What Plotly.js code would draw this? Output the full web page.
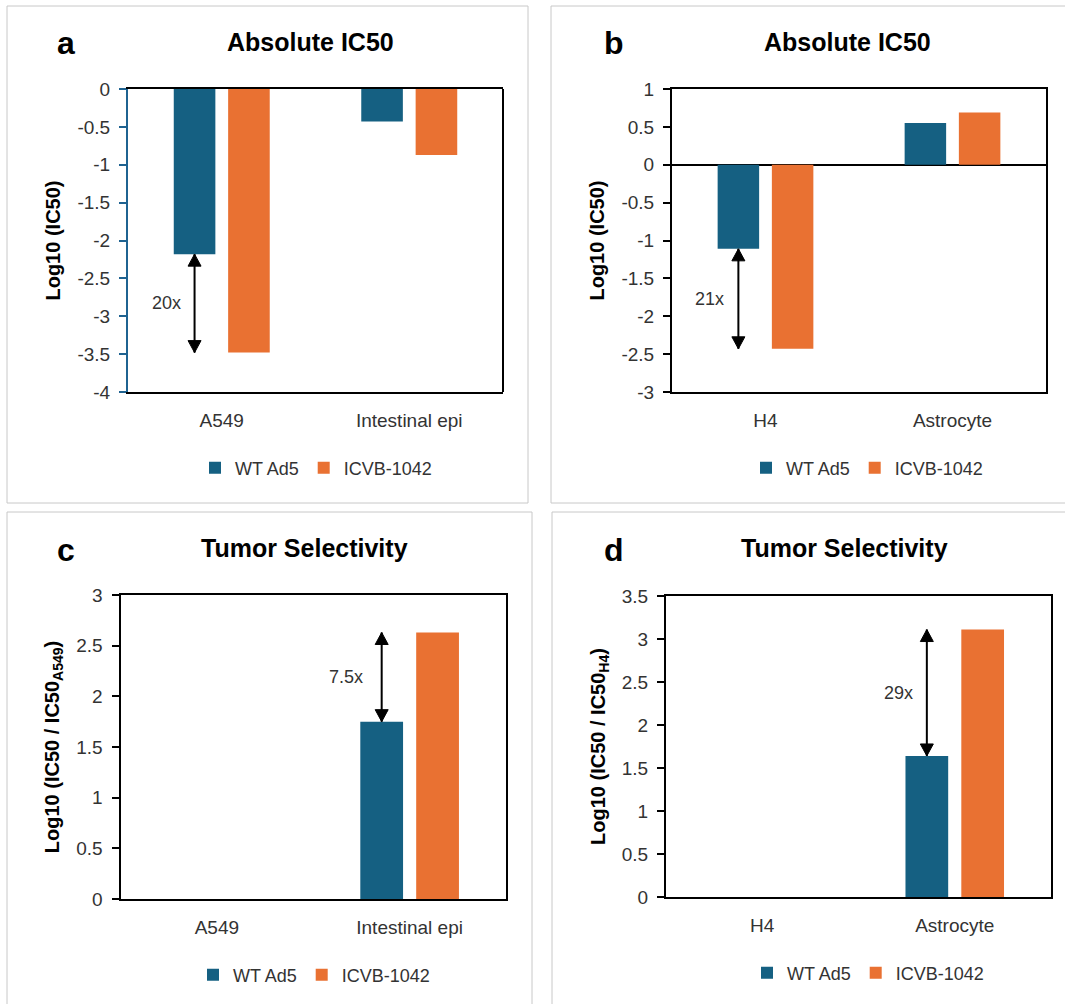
<!DOCTYPE html>
<html>
<head>
<meta charset="utf-8">
<script src="https://cdn.plot.ly/plotly-3.0.1.min.js"></script>
<style>
  html, body { margin: 0; padding: 0; background: #ffffff; }
  #chart { width: 1065px; height: 1004px; }
</style>
</head>
<body>
<div id="chart"></div>
<script>
// ---------------- data ----------------
const seriesNames = ['WT Ad5', 'ICVB-1042'];
const catsLung = ['A549', 'Intestinal epi'];
const catsBrain = ['H4', 'Astrocyte'];

const absLungWT = [-2.18, -0.43];
const absLungICVB = [-3.48, -0.87];
const absBrainWT = [-1.11, 0.55];
const absBrainICVB = [-2.43, 0.69];
const selLungWT = [0, 1.75];
const selLungICVB = [0, 2.63];
const selBrainWT = [0, 1.64];
const selBrainICVB = [0, 3.11];

const foldLabels = ['20x', '21x', '7.5x', '29x'];
const foldCategory = [0, 0, 1, 1];

const panelLetters = ['a', 'b', 'c', 'd'];
const panelTitles = ['Absolute IC50', 'Absolute IC50', 'Tumor Selectivity', 'Tumor Selectivity'];
const yTitles = ['Log10 (IC50)', 'Log10 (IC50)', 'Log10 (IC50 / IC50<sub>A549</sub>)', 'Log10 (IC50 / IC50<sub>H4</sub>)'];
const yTicksA = [0, -0.5, -1, -1.5, -2, -2.5, -3, -3.5, -4];
const yTicksB = [1, 0.5, 0, -0.5, -1, -1.5, -2, -2.5, -3];
const yTicksC = [3, 2.5, 2, 1.5, 1, 0.5, 0];
const yTicksD = [3.5, 3, 2.5, 2, 1.5, 1, 0.5, 0];

// ---------------- styling ----------------
const W = 1065, H = 1004;
const FONT = 'Liberation Sans, Arial, sans-serif';
const TXT = '#333333';
const C_WT = '#156082';
const C_ICVB = '#E97132';
const AXBLUE = '#1f6391';
const BARGAP = 0.42, GROUPGAP = 0.235;
const HEAD_L = 12, HEAD_W = 6.5;
const px = v => v / W;
const py = v => 1 - v / H;

const panels = [
  {cats: catsLung,  wt: absLungWT,  icvb: absLungICVB,  ticks: yTicksA, range: [-4, 0],  dom: [128, 503, 89, 392],   title: [310, 42],  letter: [66, 43],  legend: [316, 468], sfx: ''},
  {cats: catsBrain, wt: absBrainWT, icvb: absBrainICVB, ticks: yTicksB, range: [-3, 1],  dom: [672, 1046, 89, 392],  title: [847, 42],  letter: [614, 43], legend: [867, 468], sfx: '2'},
  {cats: catsLung,  wt: selLungWT,  icvb: selLungICVB,  ticks: yTicksC, range: [0, 3],   dom: [120.5, 506, 595, 899], title: [304, 548], letter: [66, 550], legend: [314, 975], sfx: '3'},
  {cats: catsBrain, wt: selBrainWT, icvb: selBrainICVB, ticks: yTicksD, range: [0, 3.5], dom: [666, 1051, 596, 897],  title: [844, 548], letter: [614, 550], legend: [868, 973], sfx: '4'}
];

const traces = [];
const layout = {
  width: W, height: H,
  margin: {l: 0, r: 0, t: 0, b: 0},
  paper_bgcolor: '#ffffff', plot_bgcolor: '#ffffff',
  font: {family: FONT, color: TXT, size: 18},
  barmode: 'group', bargap: BARGAP, bargroupgap: GROUPGAP,
  annotations: [], shapes: []
};

// panel borders
const borders = [[7, 528, 6, 503], [551, 1080, 6, 503], [7, 532, 512, 1020], [552, 1080, 512, 1020]];
borders.forEach(b => layout.shapes.push({
  type: 'rect', xref: 'paper', yref: 'paper',
  x0: px(b[0]), x1: px(b[1]), y0: py(b[3]), y1: py(b[2]),
  line: {color: '#c8c8c8', width: 1}, fillcolor: 'rgba(0,0,0,0)', layer: 'below'
}));

const off = -(1 - BARGAP) / 4;

function arrowHead(xa, ya, xPos, v, toward) {
  // triangle whose tip sits at data value v, pointing away from value `toward`
  const s = Math.sign(toward - v);
  const b = s * HEAD_L;
  return {
    type: 'path', xref: xa, yref: ya,
    xsizemode: 'pixel', ysizemode: 'pixel', xanchor: xPos, yanchor: v,
    path: `M0,0 L${-HEAD_W},${b} L${HEAD_W},${b} Z`,
    fillcolor: '#000000', line: {color: '#000000', width: 1}
  };
}

panels.forEach((p, i) => {
  const xa = 'x' + p.sfx, ya = 'y' + p.sfx;
  const lg = 'legend' + p.sfx;
  traces.push({type: 'bar', name: seriesNames[0], x: p.cats, y: p.wt, xaxis: xa, yaxis: ya,
    marker: {color: C_WT, line: {width: 0}}, legend: lg, hoverinfo: 'x+y+name'});
  traces.push({type: 'bar', name: seriesNames[1], x: p.cats, y: p.icvb, xaxis: xa, yaxis: ya,
    marker: {color: C_ICVB, line: {width: 0}}, legend: lg, hoverinfo: 'x+y+name'});

  const isA = i === 0;
  const lineCol = isA ? AXBLUE : '#000000';
  layout['xaxis' + p.sfx] = {
    domain: [px(p.dom[0]), px(p.dom[1])], anchor: ya,
    type: 'category', range: [-0.5, 1.5],
    showline: true, linecolor: '#000000', linewidth: 2, mirror: true,
    ticks: '', showgrid: false, zeroline: false,
    tickfont: {family: FONT, size: 19, color: TXT}, ticklabelstandoff: 10,
    fixedrange: true
  };
  layout['yaxis' + p.sfx] = {
    domain: [py(p.dom[3]), py(p.dom[2])], anchor: xa,
    range: p.range, tickmode: 'array', tickvals: p.ticks, ticktext: p.ticks.map(v => String(v)),
    showline: true, linecolor: lineCol, linewidth: 2, mirror: !isA,
    ticks: 'outside', ticklen: 7, tickwidth: 2, tickcolor: lineCol,
    showgrid: false,
    zeroline: i === 1, zerolinecolor: '#000000', zerolinewidth: 2,
    tickfont: {family: FONT, size: 19, color: TXT}, ticklabelstandoff: 5,
    title: {text: yTitles[i], font: {family: FONT, size: 20, color: '#000000', weight: 'bold'}, standoff: 11},
    fixedrange: true
  };
  if (isA) {
    layout.shapes.push({type: 'line', xref: 'x domain', yref: 'y domain', x0: 1, x1: 1, y0: 0, y1: 1,
      line: {color: '#000000', width: 2}});
  }

  layout[lg] = {
    orientation: 'h', x: px(p.legend[0]), y: py(p.legend[1]), xanchor: 'center', yanchor: 'middle',
    xref: 'paper', yref: 'paper',
    font: {family: FONT, size: 18, color: TXT}, bgcolor: 'rgba(0,0,0,0)', itemwidth: 30, traceorder: 'normal'
  };

  // panel title and letter
  layout.annotations.push({xref: 'paper', yref: 'paper', x: px(p.title[0]), y: py(p.title[1]),
    xanchor: 'center', yanchor: 'middle', showarrow: false, text: panelTitles[i],
    font: {family: FONT, size: 25, color: '#000000', weight: 'bold'}});
  layout.annotations.push({xref: 'paper', yref: 'paper', x: px(p.letter[0]), y: py(p.letter[1]),
    xanchor: 'center', yanchor: 'middle', showarrow: false, text: panelLetters[i],
    font: {family: FONT, size: 32, color: '#000000', weight: 'bold'}});

  // fold-change double arrow between the two series, at the WT bar position
  const k = foldCategory[i];
  const ax = k + off;
  layout.shapes.push({type: 'line', xref: xa, yref: ya, x0: ax, x1: ax, y0: p.wt[k], y1: p.icvb[k],
    line: {color: '#000000', width: 2}});
  layout.shapes.push(arrowHead(xa, ya, ax, p.wt[k], p.icvb[k]));
  layout.shapes.push(arrowHead(xa, ya, ax, p.icvb[k], p.wt[k]));
  layout.annotations.push({xref: xa, yref: ya, x: ax, y: (p.wt[k] + p.icvb[k]) / 2,
    text: foldLabels[i], showarrow: false, xanchor: 'right', yanchor: 'middle', xshift: i === 2 ? -17 : -12,
    font: {family: FONT, size: 18, color: TXT}});
});

Plotly.newPlot('chart', traces, layout, {displayModeBar: false, staticPlot: true});
</script>
</body>
</html>
